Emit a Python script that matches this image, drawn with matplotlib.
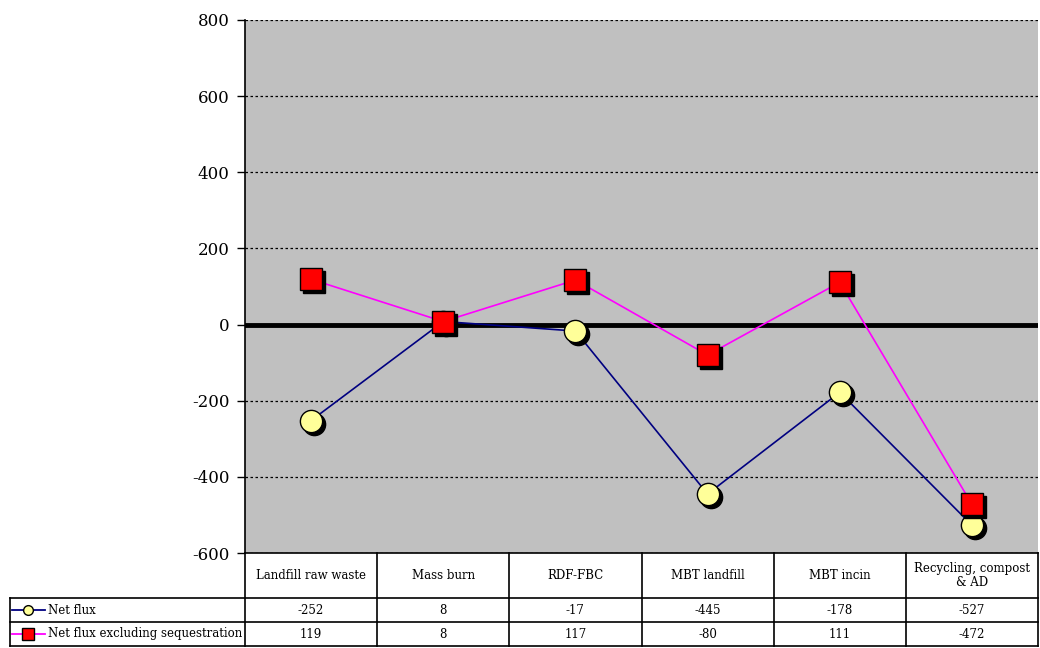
import matplotlib
matplotlib.use("Agg")
import matplotlib.pyplot as plt
import matplotlib.transforms as mtransforms
from matplotlib.lines import Line2D

plt.rcParams['font.family'] = ['DejaVu Serif']

categories = ["Landfill raw waste", "Mass burn", "RDF-FBC", "MBT landfill",
              "MBT incin", "Recycling, compost\n& AD"]
net_flux = [-252, 8, -17, -445, -178, -527]
net_flux_excl = [119, 8, 117, -80, 111, -472]
series_names = ["Net flux", "Net flux excluding sequestration"]
y_ticks = [-600, -400, -200, 0, 200, 400, 600, 800]

W, H = 1040, 648
fig = plt.figure(figsize=(W / 100, H / 100), dpi=100)
fig.patch.set_facecolor("white")

left, right, top, bottom = 245, 1038, 20, 553
ax = fig.add_axes([left / W, 1 - bottom / H, (right - left) / W, (bottom - top) / H])
ax.set_facecolor("#C0C0C0")
ax.set_xlim(-0.5, len(categories) - 0.5)
ax.set_ylim(-600, 800)
ax.set_yticks(y_ticks)
ax.set_yticklabels([str(v) for v in y_ticks], fontsize=12)
ax.set_xticks([])
ax.tick_params(axis="y", direction="out", length=6, width=1, pad=5)
for s in ["top", "right", "bottom"]:
    ax.spines[s].set_visible(False)
ax.spines["left"].set_linewidth(1.2)

for v in y_ticks:
    if v != 0:
        ax.axhline(v, color="black", lw=0.9, ls=(0, (2, 2)), zorder=1)
ax.axhline(0, color="black", lw=3.5, zorder=2)

x = list(range(len(categories)))
shadow = mtransforms.offset_copy(ax.transData, fig=fig, x=3, y=-3, units="dots")

ax.plot(x, net_flux, color="#000080", lw=1.2, zorder=3)
ax.plot(x, net_flux_excl, color="#FF00FF", lw=1.2, zorder=3)

ax.plot(x, net_flux, ls="none", marker="o", ms=16, mfc="black", mec="black",
        transform=shadow, zorder=4)
ax.plot(x, net_flux, ls="none", marker="o", ms=16, mfc="#FFFF99", mec="black",
        mew=1, zorder=5)
ax.plot(x, net_flux_excl, ls="none", marker="s", ms=16.5, mfc="black", mec="black",
        transform=shadow, zorder=6)
ax.plot(x, net_flux_excl, ls="none", marker="s", ms=16.5, mfc="#FF0000", mec="black",
        mew=1, zorder=7)

# Data table underneath the plot
def fx(px):
    return px / W

def fy(py):
    return 1 - py / H

col_edges = [left + i * (right - left) / len(categories) for i in range(len(categories) + 1)]
row_edges = [553, 598, 622, 646]
legend_left = 10

lkw = dict(color="black", lw=1.2, transform=fig.transFigure)
# vertical lines
for i, xe in enumerate(col_edges):
    fig.add_artist(Line2D([fx(xe), fx(xe)], [fy(row_edges[0]), fy(row_edges[-1])], **lkw))
fig.add_artist(Line2D([fx(legend_left), fx(legend_left)], [fy(row_edges[1]), fy(row_edges[-1])], **lkw))
# horizontal lines
fig.add_artist(Line2D([fx(left), fx(right)], [fy(row_edges[0]), fy(row_edges[0])], **lkw))
for ye in row_edges[1:]:
    fig.add_artist(Line2D([fx(legend_left), fx(right)], [fy(ye), fy(ye)], **lkw))

for i, cat in enumerate(categories):
    cx = (col_edges[i] + col_edges[i + 1]) / 2
    cy = (row_edges[0] + row_edges[1]) / 2
    fig.text(fx(cx), fy(cy), cat, ha="center", va="center", fontsize=8.5,
             linespacing=1.1)
    for r, vals in enumerate([net_flux, net_flux_excl]):
        cy = (row_edges[r + 1] + row_edges[r + 2]) / 2
        fig.text(fx(cx), fy(cy), str(vals[i]), ha="center", va="center", fontsize=8.5)

# legend keys in the row headers
styles = [("#000080", "o", "#FFFF99", 7), ("#FF00FF", "s", "#FF0000", 8)]
for r, (name, (lc, mk, fc, ms)) in enumerate(zip(series_names, styles)):
    cy = (row_edges[r + 1] + row_edges[r + 2]) / 2
    fig.add_artist(Line2D([fx(12), fx(45)], [fy(cy), fy(cy)], color=lc, lw=1.3,
                          transform=fig.transFigure))
    fig.add_artist(Line2D([fx(28)], [fy(cy)], ls="none", marker=mk, ms=ms, mfc=fc,
                          mec="black", mew=1, transform=fig.transFigure))
    fig.text(fx(48), fy(cy), name, ha="left", va="center", fontsize=8.5)

fig.savefig("out.png", dpi=100)
